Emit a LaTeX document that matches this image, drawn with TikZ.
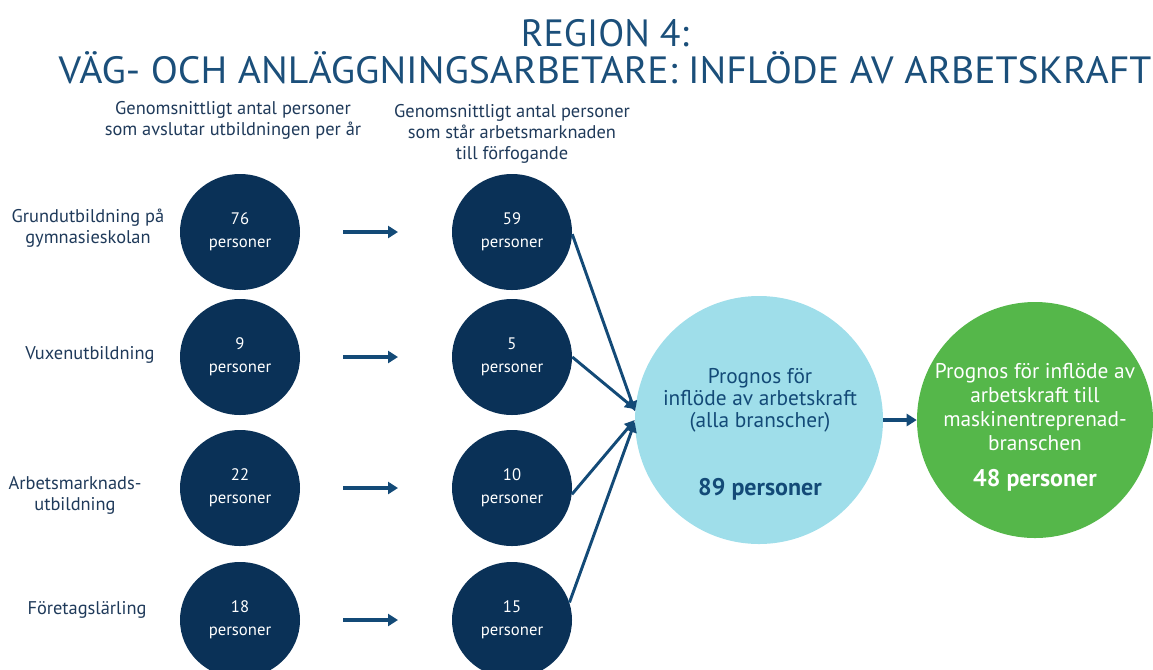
\documentclass[tikz,border=0pt]{standalone}
\usepackage{fontspec}
\setmainfont{PT Sans}
\usetikzlibrary{arrows.meta,shapes.geometric,calc}
\definecolor{navy}{HTML}{0A3157}
\definecolor{titleblue}{HTML}{1B4F7A}
\definecolor{labelblue}{HTML}{1F3A5A}
\definecolor{arrowblue}{HTML}{134A77}
\definecolor{lightblue}{HTML}{9FDEEA}
\definecolor{greenc}{HTML}{55B74A}
\begin{document}
\begin{tikzpicture}[x=0.75pt,y=-0.75pt,
  small/.style={ellipse,fill=navy,minimum width=90pt,minimum height=87pt,inner sep=0pt},
  ctext/.style={text=white,font=\fontsize{12.5}{17}\selectfont,align=center},
  lab/.style={text=labelblue,font=\fontsize{13.8}{15.75}\selectfont,align=center},
  head/.style={text=labelblue,font=\fontsize{13.8}{15.75}\selectfont,align=center},
  big/.style={circle,inner sep=0pt},
  arr/.style={draw=arrowblue,line width=3pt,-{Triangle[length=7.5pt,width=9pt]}},
  conn/.style={draw=arrowblue,line width=2.2pt,-{Triangle[length=7.5pt,width=8pt]}}]
\useasboundingbox (0,0) rectangle (1153,669);
% title
\node[text=titleblue,font=\fontsize{28.5}{30}\selectfont] (t1) at (605,33) {REGION 4:};
\node[text=titleblue,font=\fontsize{28.5}{30}\selectfont] (t2) at (605,68) {\scalebox{1.045}[1]{VÄG- OCH ANLÄGGNINGSARBETARE: INFLÖDE AV ARBETSKRAFT}};
% headers
\node[head] (h1) at (233,120) {Genomsnittligt antal personer\\som avslutar utbildningen per år};
\node[head] (h2) at (512,134) {Genomsnittligt antal personer\\som står arbetsmarknaden\\till förfogande};
% left labels
\node[lab] (l1) at (88,228) {Grundutbildning på\\gymnasieskolan};
\node[lab] (l2) at (90,355) {Vuxenutbildning};
\node[lab] (l3) at (75,495) {Arbetsmarknads-\\utbildning};
\node[lab] (l4) at (87,610) {Företagslärling};
% left circles
\node[small] (a1) at (240,232) {};
\node[small] (a2) at (240,357) {};
\node[small] (a3) at (240,488) {};
\node[small] (a4) at (240,620) {};
\node[ctext] at (a1) {76\\personer};
\node[ctext] at (a2) {9\\personer};
\node[ctext] at (a3) {22\\personer};
\node[ctext] at (a4) {18\\personer};
% middle circles
\node[small] (m1) at (512,232) {};
\node[small] (m2) at (512,357) {};
\node[small] (m3) at (512,488) {};
\node[small] (m4) at (512,620) {};
\node[ctext] at (m1) {59\\personer};
\node[ctext] at (m2) {5\\personer};
\node[ctext] at (m3) {10\\personer};
\node[ctext] at (m4) {15\\personer};
% short arrows
\foreach \i in {1,2,3,4}{
  \coordinate (s\i) at ($(a\i)+(103,0)$);
  \coordinate (e\i) at ($(a\i)+(158,0)$);
  \draw[arr] (s\i) -- (e\i);
}
% big circles
\node[big,fill=lightblue,minimum size=186pt] (b) at (759,420) {};
\node[big,fill=greenc,minimum size=177pt] (g) at (1035,420) {};
\node[text=arrowblue,font=\fontsize{16}{16.5}\selectfont,align=center] (bt) at (760,400) {Prognos för\\inflöde av arbetskraft\\(alla branscher)};
\node[text=arrowblue,font=\bfseries\fontsize{18}{18}\selectfont] (bn) at (760,489) {89 personer};
\node[text=white,font=\fontsize{16}{18}\selectfont,align=center] (gt) at (1035,407) {Prognos för inflöde av\\arbetskraft till\\maskinentreprenad-\\branschen};
\node[text=white,font=\bfseries\fontsize{18}{18}\selectfont] (gn) at (1035,480) {48 personer};
% connectors
\draw[conn] (m1.-2) -- (b.176);
\draw[conn] (m2.east) -- (b.175);
\draw[conn] (m3.-6) -- (b.180);
\draw[conn] (m4.17) -- (b.181);
\draw[arr] (b.east) -- (g.west);
\end{tikzpicture}
\end{document}
